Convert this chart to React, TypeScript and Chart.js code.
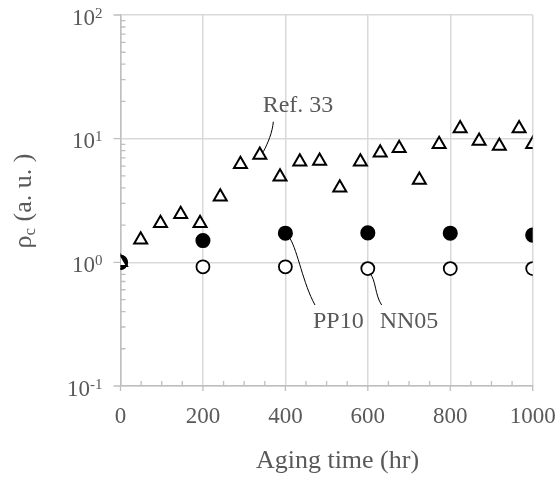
import React, { useEffect, useRef } from "react";
import { Chart, registerables } from "chart.js";

Chart.register(...registerables);

// ---- data ----
const agingRef33 = [0, 49, 97, 146, 193, 242, 291, 338, 387, 435, 483, 532, 582, 630, 676, 725, 773, 824, 870, 919, 967, 1000];
const rhoRef33 = [1.0, 1.52, 2.07, 2.45, 2.07, 3.39, 6.2, 7.37, 4.92, 6.5, 6.59, 4.01, 6.5, 7.69, 8.35, 4.63, 9.0, 12.1, 9.57, 8.71, 12.1, 9.0];
const agingSamples = [0, 200, 400, 600, 800, 1000];
const rhoPP10 = [1.0, 1.5, 1.72, 1.73, 1.72, 1.66];
const rhoNN05 = [1.0, 0.92, 0.92, 0.89, 0.89, 0.89];
const xTicks = [0, 200, 400, 600, 800, 1000];
const xTickLabels = ["0", "200", "400", "600", "800", "1000"];
const xMinorTicks = [50, 100, 150, 250, 300, 350, 450, 500, 550, 650, 700, 750, 850, 900, 950];
const yDecades = [0.1, 1, 10, 100];
const xTitle = "Aging time (hr)";

// annotation labels (data coordinates) and leader curves (cubic bezier, data coordinates)
const annotationTexts = ["Ref. 33", "PP10", "NN05"];
const annotationAnchors = [
  [430.6, 16.5],
  [528.4, 0.294],
  [699.9, 0.294],
];
const annotationLeaders = [
  [[370.7, 13.7], [368.7, 11.31], [357.8, 9.21], [346.4, 7.84]],
  [[411.2, 1.563], [430.6, 1.211], [442.7, 0.679], [471.8, 0.4517]],
  [[605.3, 0.815], [619.8, 0.715], [617.4, 0.541], [633.6, 0.4517]],
];

const SERIF = "'Liberation Serif', 'Times New Roman', serif";
const TEXT = "#595959";
const GRID = "#d9d9d9";
const AXIS = "#bfbfbf";

const decorPlugin = {
  id: "decor",
  beforeDatasetsDraw(chart: any) {
    const ctx = chart.ctx;
    const xs = chart.scales.x;
    const ys = chart.scales.y;
    const { left, bottom } = chart.chartArea;
    ctx.save();
    ctx.strokeStyle = AXIS;
    ctx.lineWidth = 1.3;
    ctx.beginPath();
    for (const d of yDecades) {
      const py = ys.getPixelForValue(d);
      ctx.moveTo(left - 7, py);
      ctx.lineTo(left, py);
    }
    for (let i = 0; i < yDecades.length - 1; i++) {
      for (let k = 2; k <= 9; k++) {
        const py = ys.getPixelForValue(yDecades[i] * k);
        ctx.moveTo(left, py);
        ctx.lineTo(left + 5, py);
      }
    }
    for (const t of xTicks) {
      const px = xs.getPixelForValue(t);
      ctx.moveTo(px, bottom);
      ctx.lineTo(px, bottom + 5);
    }
    for (const t of xMinorTicks) {
      const px = xs.getPixelForValue(t);
      ctx.moveTo(px, bottom);
      ctx.lineTo(px, bottom - 5);
    }
    ctx.stroke();
    ctx.restore();
  },
  afterDraw(chart: any) {
    const ctx = chart.ctx;
    const xs = chart.scales.x;
    const ys = chart.scales.y;
    const { left } = chart.chartArea;
    ctx.save();
    ctx.fillStyle = TEXT;
    // y tick labels with superscript exponents
    const rightEdge = left - 18;
    for (const d of yDecades) {
      const py = ys.getPixelForValue(d);
      const e = Math.round(Math.log10(d));
      const expStr = e < 0 ? "-" + Math.abs(e) : String(e);
      ctx.font = `15px ${SERIF}`;
      ctx.textAlign = "right";
      ctx.textBaseline = "alphabetic";
      const ew = ctx.measureText(expStr).width;
      ctx.fillText(expStr, rightEdge, py + 2.5);
      ctx.font = `23px ${SERIF}`;
      ctx.fillText("10", rightEdge - ew, py + 9.5);
    }
    // x title
    ctx.font = `26px ${SERIF}`;
    ctx.textAlign = "center";
    ctx.textBaseline = "alphabetic";
    ctx.fillText(xTitle, 337.5, 468);
    // y title (rotated) rho with subscript c
    ctx.save();
    ctx.translate(31, 201);
    ctx.rotate(-Math.PI / 2);
    ctx.font = `26px ${SERIF}`;
    const p1 = "\u03C1";
    const p3 = " (a. u. )";
    const w1 = ctx.measureText(p1).width;
    const w3 = ctx.measureText(p3).width;
    ctx.font = `17px ${SERIF}`;
    const w2 = ctx.measureText("c").width;
    const total = w1 + w2 + w3;
    let x0 = -total / 2;
    ctx.textAlign = "left";
    ctx.font = `26px ${SERIF}`;
    ctx.fillText(p1, x0, 0);
    x0 += w1;
    ctx.font = `17px ${SERIF}`;
    ctx.fillText("c", x0, 4);
    x0 += w2;
    ctx.font = `26px ${SERIF}`;
    ctx.fillText(p3, x0, 0);
    ctx.restore();
    // annotations
    ctx.strokeStyle = "#000000";
    ctx.lineWidth = 1;
    for (const pts of annotationLeaders) {
      const p = pts.map(([hx, vy]) => [xs.getPixelForValue(hx), ys.getPixelForValue(vy)]);
      ctx.beginPath();
      ctx.moveTo(p[0][0], p[0][1]);
      ctx.bezierCurveTo(p[1][0], p[1][1], p[2][0], p[2][1], p[3][0], p[3][1]);
      ctx.stroke();
    }
    ctx.font = `24px ${SERIF}`;
    ctx.textAlign = "center";
    ctx.textBaseline = "alphabetic";
    annotationTexts.forEach((t, i) => {
      const [hx, vy] = annotationAnchors[i];
      ctx.fillText(t, xs.getPixelForValue(hx), ys.getPixelForValue(vy));
    });
    ctx.restore();
  },
};

export default function App() {
  const ref = useRef<HTMLCanvasElement | null>(null);
  useEffect(() => {
    if (!ref.current) return;
    const chart = new Chart(ref.current, {
      type: "scatter",
      data: {
        datasets: [
          {
            label: "Ref. 33",
            data: agingRef33.map((x, i) => ({ x, y: rhoRef33[i] })),
            pointStyle: "triangle",
            pointRadius: 7.5,
            pointBackgroundColor: "#ffffff",
            pointBorderColor: "#000000",
            pointBorderWidth: 2,
          },
          {
            label: "PP10",
            data: agingSamples.map((x, i) => ({ x, y: rhoPP10[i] })),
            pointStyle: "circle",
            pointRadius: 6.8,
            pointBackgroundColor: "#000000",
            pointBorderColor: "#000000",
            pointBorderWidth: 1.5,
          },
          {
            label: "NN05",
            data: agingSamples.map((x, i) => ({ x, y: rhoNN05[i] })),
            pointStyle: "circle",
            pointRadius: 6.5,
            pointBackgroundColor: "#ffffff",
            pointBorderColor: "#000000",
            pointBorderWidth: 1.8,
          },
        ],
      },
      options: {
        animation: false,
        responsive: false,
        layout: { padding: { top: 15, right: 25.3, left: 0, bottom: 0 } },
        plugins: { legend: { display: false }, tooltip: { enabled: false } },
        scales: {
          x: {
            type: "linear",
            min: 0,
            max: 1000,
            afterBuildTicks: (s: any) => {
              s.ticks = xTicks.map((v) => ({ value: v }));
            },
            afterFit: (s: any) => {
              s.height = 91;
              s.paddingRight = 0;
              s.paddingLeft = 0;
            },
            ticks: {
              font: { family: SERIF, size: 23 },
              color: TEXT,
              padding: 17,
              maxRotation: 0,
              callback: (_v: any, i: number) => xTickLabels[i],
            },
            grid: { color: GRID, lineWidth: 1.5, drawTicks: false },
            border: { color: AXIS, width: 1.5 },
          },
          y: {
            type: "logarithmic",
            min: 0.1,
            max: 100,
            afterBuildTicks: (s: any) => {
              s.ticks = yDecades.map((v) => ({ value: v, major: true }));
            },
            afterFit: (s: any) => {
              s.width = 120.5;
              s.paddingTop = 0;
              s.paddingBottom = 0;
            },
            ticks: { display: false },
            grid: { color: GRID, lineWidth: 1.5, drawTicks: false },
            border: { color: AXIS, width: 1.5 },
          },
        },
      },
      plugins: [decorPlugin],
    });
    return () => chart.destroy();
  }, []);
  return (
    <div style={{ position: "absolute", left: 0, top: 0, width: 558, height: 477, background: "#fff" }}>
      <canvas ref={ref} width={558} height={477} style={{ display: "block" }} />
    </div>
  );
}
